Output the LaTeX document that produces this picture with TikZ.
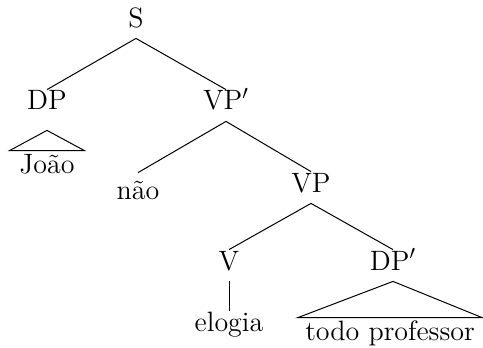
\documentclass[tikz,border=0pt]{standalone}
\usepackage{tikz}
\usetikzlibrary{positioning}

\begin{document}
\begin{tikzpicture}[x=0.5pt, y=-0.5pt,
    cat/.style={font=\fontsize{14}{17}\selectfont, text height=0.7em, text depth=0.25em,
                inner sep=3pt, anchor=base},
    leaf/.style={cat, inner xsep=#1, inner ysep=4pt},
    branch/.style={line width=0.5pt}
]
\useasboundingbox (0,0) rectangle (483,348);

%% Top level
\node[cat] (s) at (136, 27) {S};
\node[cat] (dp) at (47, 110) {DP};
\node[cat] (vpbar) at (226, 110) {VP$'$};

%% Middle level
\node[leaf=4.7pt] (joao) at (47, 173) {João};
\node[cat, text height=1em] (nao) at (138, 199) {não};
\node[cat] (vp) at (311, 192) {VP};

%% Bottom level
\node[cat] (v) at (229, 270) {V};
\node[cat] (dpbar) at (393, 270) {DP$'$};
\node[cat] (elogia) at (229, 331) {elogia};
\node[leaf=3.5pt] (tp) at (390, 340) {todo professor};

%% Branches
\draw[branch] (s.south) -- (dp.north);
\draw[branch] (s.south) -- (vpbar.north);
\draw[branch] (vpbar.south) -- (nao.north);
\draw[branch] (vpbar.south) -- (vp.north);
\draw[branch] (vp.south) -- (v.north);
\draw[branch] (vp.south) -- (dpbar.north);
\draw[branch] (v.south) -- (elogia.north);

%% Roofs
\draw[branch] ([yshift=-4.5pt]dp.south) -- (joao.north west) -- (joao.north east) -- cycle;
\draw[branch] (dpbar.south) -- (tp.north west) -- (tp.north east) -- cycle;

\end{tikzpicture}
\end{document}
